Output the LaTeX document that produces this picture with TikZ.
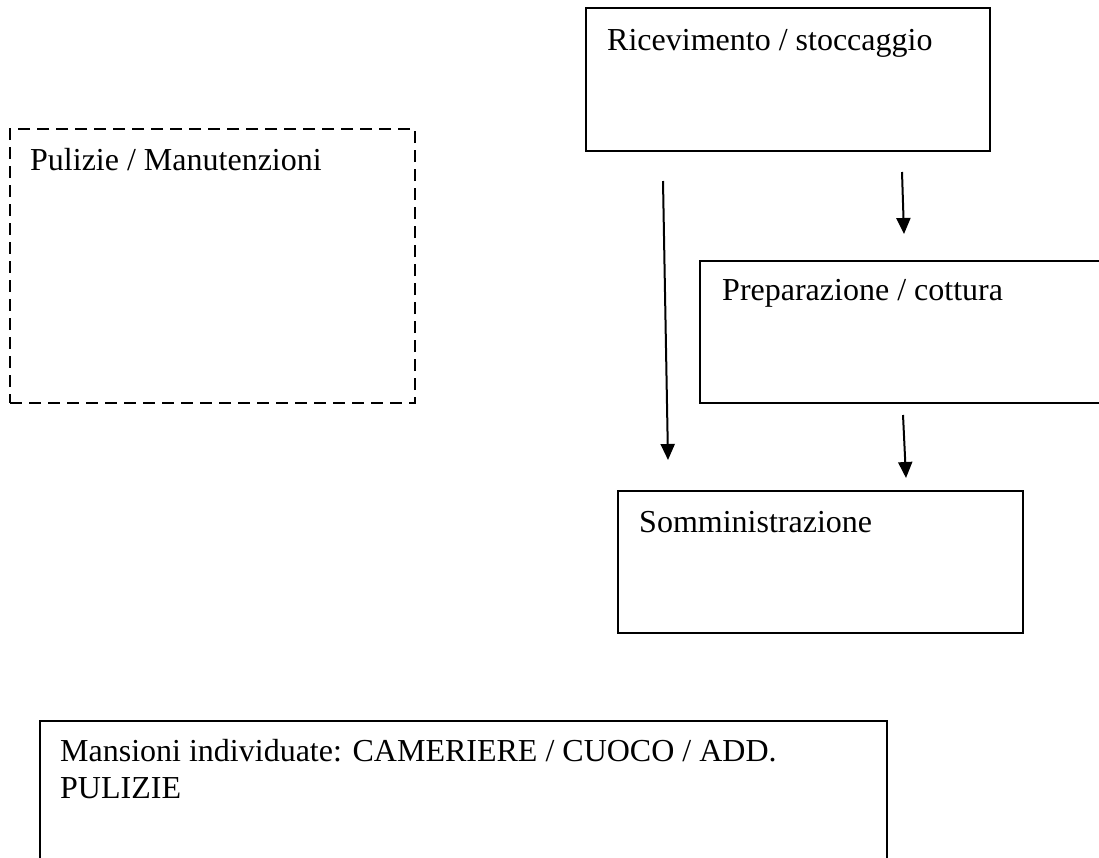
\documentclass[tikz,border=0pt]{standalone}
\usepackage{fontspec}
\setmainfont{Liberation Serif}
\usetikzlibrary{arrows.meta}
\tikzset{
  box/.style={draw=black, line width=2pt, fill=none, inner sep=0pt, outer sep=0pt, anchor=north west},
  dbox/.style={box, dash pattern=on 12pt off 7pt},
  lbl/.style={anchor=base west, inner sep=0pt, font=\fontsize{32}{37}\selectfont, align=left},
  flow/.style={line width=2pt, -{Triangle[length=16pt,width=14pt]}}
}
\begin{document}
\begin{tikzpicture}[x=1pt,y=-1pt]
\useasboundingbox (0,0) rectangle (1099,857);
\clip (0,0) rectangle (1099,857);
% boxes
\node[box, minimum width=404pt, minimum height=143pt] (rec) at (586,8) {};
\node[box, minimum width=420pt, minimum height=142pt] (prep) at (700,261) {};
\node[box, minimum width=405pt, minimum height=142pt] (somm) at (618,491) {};
\node[dbox, minimum width=405pt, minimum height=274pt] (pul) at (10,129) {};
\node[box, minimum width=847pt, minimum height=160pt] (mans) at (40,721) {};
% labels
\node[lbl] (trec) at (607,50) {Ricevimento / stoccaggio};
\node[lbl] (tprep) at (722,300) {Preparazione / cottura};
\node[lbl] (tsomm) at (639,532) {Somministrazione};
\node[lbl] (tpul) at (30,170) {Pulizie / Manutenzioni};
\node[lbl] (tmans) at (60,798) {Mansioni individuate: CAMERIERE / CUOCO / ADD.\\PULIZIE};
% connectors
\coordinate (a1s) at (902,172);
\coordinate (a1e) at (904,234);
\coordinate (a2s) at (903,415);
\coordinate (a2e) at (906,478);
\coordinate (a3s) at (663,181);
\coordinate (a3e) at (668,460);
\draw[flow] (a1s) -- (a1e);
\draw[flow] (a2s) -- (a2e);
\draw[flow] (a3s) -- (a3e);
\end{tikzpicture}
\end{document}
